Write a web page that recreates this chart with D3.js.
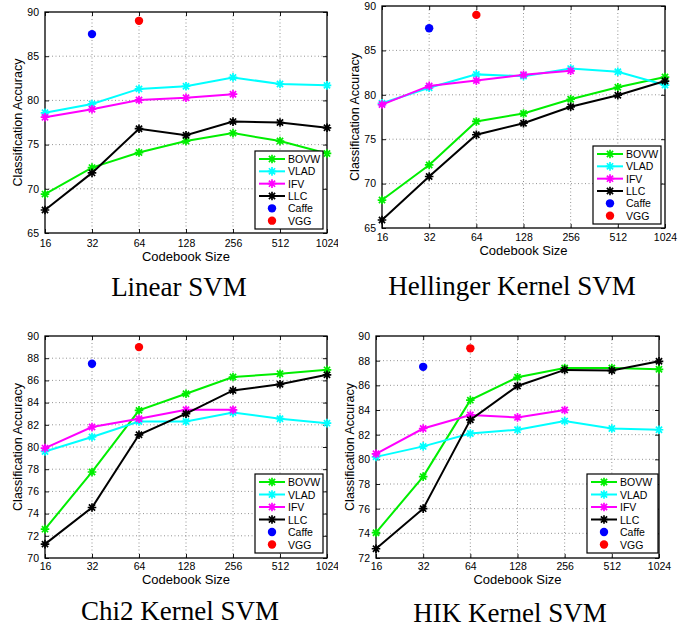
<!DOCTYPE html>
<html>
<head>
<meta charset="utf-8">
<script src="https://cdn.jsdelivr.net/npm/d3@7"></script>
<style>
body { margin: 0; background: #fff; }
svg text { font-family: "Liberation Sans", Arial, sans-serif; fill: #000; }
.title { font-family: "Liberation Serif", "Times New Roman", serif; font-size: 27px; }
</style>
</head>
<body>
<svg id="chart" width="688" height="628"></svg>
<script>
/* data */
var codebookSizes = ["16", "32", "64", "128", "256", "512", "1024"];
var methodNames = ["BOVW", "VLAD", "IFV", "LLC"];
var methodColors = ["#00ee00", "#00ffff", "#ff00ff", "#000000"];

var linearBOVW = [69.4, 72.4, 74.1, 75.4, 76.3, 75.4, 74.0];
var linearVLAD = [78.6, 79.6, 81.3, 81.6, 82.6, 81.85, 81.7];
var linearIFV  = [78.1, 79.0, 80.05, 80.3, 80.7];
var linearLLC  = [67.6, 71.8, 76.8, 76.05, 77.6, 77.5, 76.9];

var hellBOVW = [68.15, 72.1, 77.0, 77.9, 79.5, 80.85, 82.0];
var hellVLAD = [79.05, 80.8, 82.3, 82.1, 82.95, 82.6, 81.1];
var hellIFV  = [78.9, 81.0, 81.6, 82.25, 82.7];
var hellLLC  = [65.9, 70.8, 75.5, 76.8, 78.65, 79.95, 81.55];

var chiBOVW = [72.6, 77.75, 83.3, 84.8, 86.3, 86.6, 86.95];
var chiVLAD = [79.6, 80.9, 82.3, 82.3, 83.1, 82.55, 82.15];
var chiIFV  = [79.9, 81.8, 82.55, 83.35, 83.35];
var chiLLC  = [71.25, 74.55, 81.1, 83.0, 85.1, 85.65, 86.5];

var hikBOVW = [74.05, 78.6, 84.8, 86.65, 87.4, 87.4, 87.3];
var hikVLAD = [80.2, 81.05, 82.1, 82.4, 83.1, 82.5, 82.4];
var hikIFV  = [80.45, 82.5, 83.6, 83.4, 84.0];
var hikLLC  = [72.75, 76.0, 83.2, 85.95, 87.25, 87.2, 87.95];

var cnnNames = ["Caffe", "VGG"];
var cnnColors = ["#0000ff", "#ff0000"];
var cnnAt = ["32", "64"];
var cnnAcc = [87.5, 89.0];

var panelTitles = ["Linear SVM", "Hellinger Kernel SVM", "Chi2 Kernel SVM", "HIK Kernel SVM"];
var panelSeries = [
	[linearBOVW, linearVLAD, linearIFV, linearLLC],
	[hellBOVW, hellVLAD, hellIFV, hellLLC],
	[chiBOVW, chiVLAD, chiIFV, chiLLC],
	[hikBOVW, hikVLAD, hikIFV, hikLLC]
];
var yTicksTop = [65, 70, 75, 80, 85, 90];
var yTicksChi = [70, 72, 74, 76, 78, 80, 82, 84, 86, 88, 90];
var yTicksHik = [72, 74, 76, 78, 80, 82, 84, 86, 88, 90];

/* layout of each panel (pixels) */
var panels = [
	{left: 45, right: 327, top: 12, bottom: 233, ticks: yTicksTop, tickY: 246.5, xlabY: 260.5, ylabX: 22, titleX: 179, titleY: 296, leg: [255, 151, 68, 78], clip: 338},
	{left: 382, right: 665, top: 6, bottom: 228, ticks: yTicksTop, tickY: 241, xlabY: 255, ylabX: 359, titleX: 512, titleY: 295, leg: [593, 146, 68, 78], clip: 688},
	{left: 45, right: 327, top: 336, bottom: 558, ticks: yTicksChi, tickY: 570, xlabY: 583.5, ylabX: 22, titleX: 180, titleY: 620, leg: [255, 474, 68, 79], clip: 338},
	{left: 376, right: 659, top: 336, bottom: 558, ticks: yTicksHik, tickY: 570, xlabY: 583.5, ylabX: 354, titleX: 510, titleY: 622, leg: [587, 474, 71, 79], clip: 688}
];

var svg = d3.select("#chart");

/* MATLAB-style asterisk marker */
function star(r) {
	var d = r * 0.72;
	return "M0," + (-r) + "V" + r + "M" + (-r) + ",0H" + r +
		"M" + (-d) + "," + (-d) + "L" + d + "," + d +
		"M" + (-d) + "," + d + "L" + d + "," + (-d);
}

panels.forEach(function(p, i) {
	svg.append("clipPath").attr("id", "clip" + i)
		.append("rect").attr("x", 0).attr("y", 0).attr("width", p.clip).attr("height", 628);

	var g = svg.append("g").attr("clip-path", "url(#clip" + i + ")");

	var x = d3.scalePoint().domain(codebookSizes).range([p.left, p.right]);
	var y = d3.scaleLinear().domain([p.ticks[0], p.ticks[p.ticks.length - 1]]).range([p.bottom, p.top]);

	/* grid */
	g.append("g").selectAll("line").data(codebookSizes.slice(1, -1)).join("line")
		.attr("x1", d => x(d)).attr("x2", d => x(d))
		.attr("y1", p.top).attr("y2", p.bottom)
		.attr("stroke", "#888").attr("stroke-width", 0.9).attr("stroke-dasharray", "1,2.5");
	g.append("g").selectAll("line").data(p.ticks.slice(1, -1)).join("line")
		.attr("x1", p.left).attr("x2", p.right)
		.attr("y1", d => y(d)).attr("y2", d => y(d))
		.attr("stroke", "#888").attr("stroke-width", 0.9).attr("stroke-dasharray", "1,2.5");

	/* axes, ticks pointing inward on all four sides */
	var xAxisB = d3.axisBottom(x).tickSize(-4).tickPadding(8);
	var xAxisT = d3.axisTop(x).tickSize(-4).tickFormat("");
	var yAxisL = d3.axisLeft(y).tickValues(p.ticks).tickSize(-4).tickPadding(6);
	var yAxisR = d3.axisRight(y).tickValues(p.ticks).tickSize(-4).tickFormat("");

	var ax = g.append("g").attr("transform", "translate(0," + p.bottom + ")").call(xAxisB);
	ax.selectAll("text").attr("y", null).attr("dy", null)
		.attr("transform", "translate(0," + (p.tickY - p.bottom) + ")");
	g.append("g").attr("transform", "translate(0," + p.top + ")").call(xAxisT);
	g.append("g").attr("transform", "translate(" + p.left + ",0)").call(yAxisL);
	g.append("g").attr("transform", "translate(" + p.right + ",0)").call(yAxisR);
	g.selectAll(".domain").remove();
	g.selectAll(".tick line").attr("stroke", "#000").attr("stroke-width", 0.9);
	g.selectAll(".tick text").style("font-size", "10.5px").attr("fill", "#000");

	g.append("rect")
		.attr("x", p.left).attr("y", p.top)
		.attr("width", p.right - p.left).attr("height", p.bottom - p.top)
		.attr("fill", "none").attr("stroke", "#000").attr("stroke-width", 1.3);

	/* axis labels */
	g.append("text").attr("x", (p.left + p.right) / 2).attr("y", p.xlabY)
		.attr("text-anchor", "middle").style("font-size", "13px").text("Codebook Size");
	g.append("text")
		.attr("transform", "translate(" + p.ylabX + "," + ((p.top + p.bottom) / 2) + ") rotate(-90)")
		.attr("text-anchor", "middle").style("font-size", "12.5px").text("Classification Accuracy");

	/* lines */
	var line = d3.line().x((d, j) => x(codebookSizes[j])).y(d => y(d));
	panelSeries[i].forEach(function(vals, k) {
		g.append("path").attr("d", line(vals))
			.attr("fill", "none").attr("stroke", methodColors[k]).attr("stroke-width", 2);
		g.append("g").selectAll("path").data(vals).join("path")
			.attr("transform", (d, j) => "translate(" + x(codebookSizes[j]) + "," + y(d) + ")")
			.attr("d", star(4.3))
			.attr("stroke", methodColors[k]).attr("stroke-width", 1.7);
	});

	/* CNN reference dots */
	g.append("g").selectAll("circle").data(cnnAcc).join("circle")
		.attr("cx", (d, j) => x(cnnAt[j])).attr("cy", d => y(d)).attr("r", 4.2)
		.attr("fill", (d, j) => cnnColors[j]);

	/* legend */
	var L = p.leg;
	var leg = g.append("g").attr("transform", "translate(" + L[0] + "," + L[1] + ")");
	leg.append("rect").attr("width", L[2]).attr("height", L[3])
		.attr("fill", "#fff").attr("stroke", "#000").attr("stroke-width", 1.2);
	var rowH = (L[3] - 4) / 6;
	var rows = leg.selectAll("g.row").data(methodNames.concat(cnnNames)).join("g")
		.attr("class", "row")
		.attr("transform", (d, j) => "translate(0," + (8 + j * rowH) + ")");
	rows.each(function(d, j) {
		var r = d3.select(this);
		if (j < 4) {
			r.append("line").attr("x1", 4).attr("x2", 30).attr("y1", 0).attr("y2", 0)
				.attr("stroke", methodColors[j]).attr("stroke-width", 2);
			r.append("path").attr("transform", "translate(17,0)").attr("d", star(4.3))
				.attr("stroke", methodColors[j]).attr("stroke-width", 1.7);
		} else {
			r.append("circle").attr("cx", 17).attr("cy", 0).attr("r", 4.2).attr("fill", cnnColors[j - 4]);
		}
		r.append("text").attr("x", 33).attr("y", 4).style("font-size", "10.5px").text(d);
	});

	/* panel title */
	svg.append("text").attr("class", "title")
		.attr("x", p.titleX).attr("y", p.titleY)
		.attr("text-anchor", "middle").text(panelTitles[i]);
});
</script>
</body>
</html>
